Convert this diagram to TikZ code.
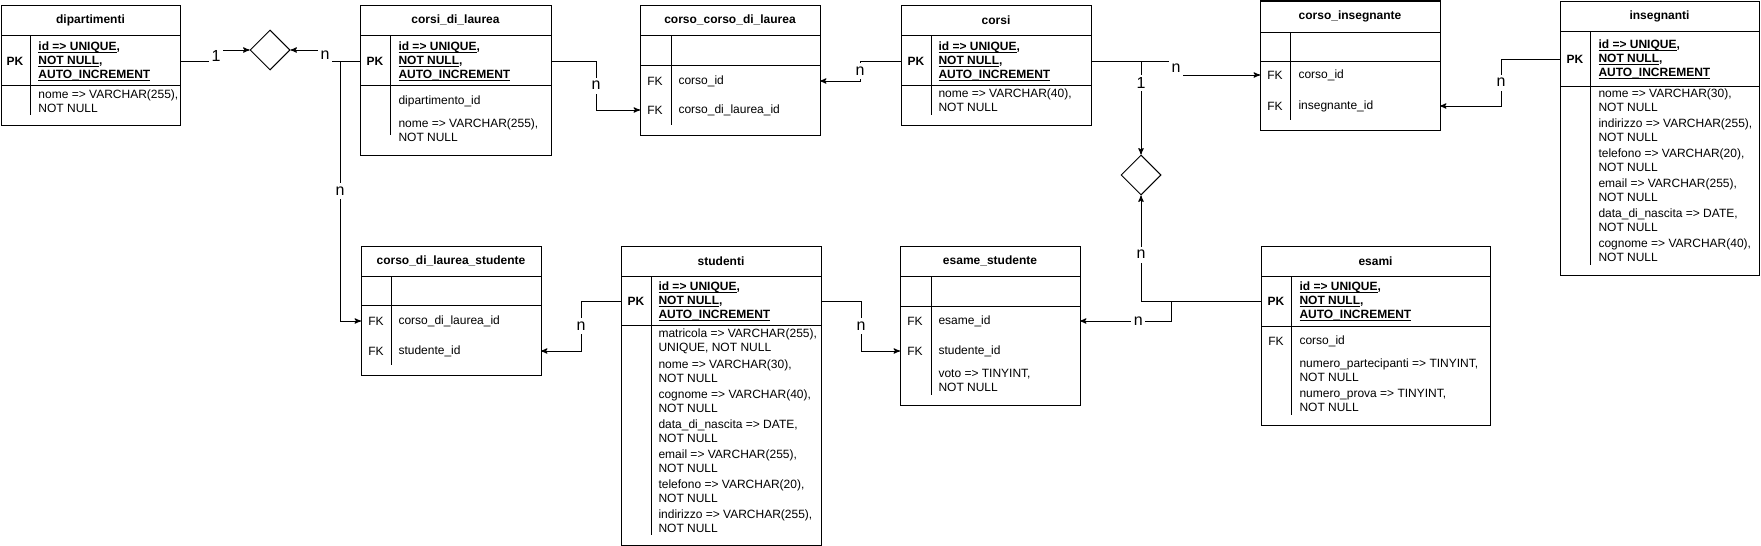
\documentclass[tikz,border=0pt]{standalone}
\usepackage{fontspec}
\setmainfont{Liberation Sans}
\usetikzlibrary{shapes.geometric}
\usetikzlibrary{arrows}

\newlength{\upx}
\setlength{\upx}{0.75pt}
\newcommand{\sott}[1]{\underline{\smash{#1}}\vphantom{#1}}

\begin{document}
\begin{tikzpicture}[x=0.75pt,y=-0.75pt,line width=0.75pt,font=\fontsize{9}{10.5}\selectfont]
\tikzset{
    %Define standard arrow tip
    >=stealth',
    %Define style for table headers
    intestazione/.style={
           rectangle,
           draw=black,
           anchor=north west,
           inner sep=0pt, outer sep=0pt,
           minimum height=30\upx,
           font=\fontsize{9}{10.5}\selectfont\bfseries},
    % Define style for table sections
    sezione/.style={
           rectangle,
           draw=black,
           anchor=north west,
           inner sep=0pt, outer sep=0pt},
    % key column and field text
    chiave/.style={inner sep=0pt},
    chiavepk/.style={inner sep=0pt, font=\fontsize{9}{10.5}\selectfont\bfseries},
    campo/.style={align=left, anchor=west, inner sep=0pt},
    % relation
    rombo/.style={
           diamond,
           draw=black,
           inner sep=0pt,
           minimum width=40\upx,
           minimum height=40\upx},
    % Define arrow style
    freccia/.style={->},
    etichetta/.style={
           fill=white,
           inner sep=0pt,
           minimum width=14\upx,
           minimum height=16\upx,
           font=\fontsize{12}{14}\selectfont}
}
\fill[white, use as bounding box] (0,0) rectangle (1761,546);

 %dipartimenti
	\node[intestazione, minimum width=179\upx] (dip) at (1,5) {dipartimenti};
	\node[sezione, minimum width=179\upx, minimum height=50\upx] (dip-pk) at (dip.south west) {};
	\node[sezione, minimum width=179\upx, minimum height=40\upx] (dip-campi) at (dip-pk.south west) {};
	\draw (dip-pk.north west) ++(29,0) -- ++(0,80);
	\node[chiavepk] (dip-pkk) at (15,61) {PK};
	\node[campo] (dip-pkt) at (38,61) {\textbf{\sott{id => UNIQUE},}\\\textbf{\sott{NOT NULL},}\\\textbf{\sott{AUTO\_INCREMENT}}};
	\node[campo] (dip-c1) at (38,101) {nome => VARCHAR(255),\\NOT NULL};

 %corsi_di_laurea
	\node[intestazione, minimum width=191\upx] (cdl) at (360,5) {corsi\_di\_laurea};
	\node[sezione, minimum width=191\upx, minimum height=50\upx] (cdl-pk) at (cdl.south west) {};
	\node[sezione, minimum width=191\upx, minimum height=70\upx] (cdl-campi) at (cdl-pk.south west) {};
	\draw (cdl-pk.north west) ++(30,0) -- ++(0,100);
	\node[chiavepk] (cdl-pkk) at (375,61) {PK};
	\node[campo] (cdl-pkt) at (398,61) {\textbf{\sott{id => UNIQUE},}\\\textbf{\sott{NOT NULL},}\\\textbf{\sott{AUTO\_INCREMENT}}};
	\node[campo] (cdl-c1) at (398,101) {dipartimento\_id};
	\node[campo] (cdl-c2) at (398,130) {nome => VARCHAR(255),\\NOT NULL};

 %corso_corso_di_laurea
	\node[intestazione, minimum width=180\upx] (ccl) at (640,5) {corso\_corso\_di\_laurea};
	\node[sezione, minimum width=180\upx, minimum height=30\upx] (ccl-vuoto) at (ccl.south west) {};
	\node[sezione, minimum width=180\upx, minimum height=70\upx] (ccl-campi) at (ccl-vuoto.south west) {};
	\draw (ccl-vuoto.north west) ++(31,0) -- ++(0,90);
	\node[chiave] (ccl-fk1) at (655,81) {FK};
	\node[campo] (ccl-c1) at (678,81) {corso\_id};
	\node[chiave] (ccl-fk2) at (655,110) {FK};
	\node[campo] (ccl-c2) at (678,110) {corso\_di\_laurea\_id};

 %corsi
	\node[intestazione, minimum width=190\upx] (cor) at (901,5) {corsi};
	\node[sezione, minimum width=190\upx, minimum height=50\upx] (cor-pk) at (cor.south west) {};
	\node[sezione, minimum width=190\upx, minimum height=40\upx] (cor-campi) at (cor-pk.south west) {};
	\draw (cor-pk.north west) ++(30,0) -- ++(0,80);
	\node[chiavepk] (cor-pkk) at (916,61) {PK};
	\node[campo] (cor-pkt) at (938,61) {\textbf{\sott{id => UNIQUE},}\\\textbf{\sott{NOT NULL},}\\\textbf{\sott{AUTO\_INCREMENT}}};
	\node[campo] (cor-c1) at (938,100) {nome => VARCHAR(40),\\NOT NULL};

 %corso_insegnante
	\node[intestazione, minimum width=180\upx, minimum height=31\upx] (cin) at (1260,1) {corso\_insegnante};
	\node[sezione, minimum width=180\upx, minimum height=29\upx] (cin-vuoto) at (cin.south west) {};
	\node[sezione, minimum width=180\upx, minimum height=69\upx] (cin-campi) at (cin-vuoto.south west) {};
	\draw (cin-vuoto.north west) ++(30,0) -- ++(0,88);
	\node[chiave] (cin-fk1) at (1275,75) {FK};
	\node[campo] (cin-c1) at (1298,75) {corso\_id};
	\node[chiave] (cin-fk2) at (1275,106) {FK};
	\node[campo] (cin-c2) at (1298,106) {insegnante\_id};

 %insegnanti
	\node[intestazione, minimum width=199\upx] (ins) at (1560,1) {insegnanti};
	\node[sezione, minimum width=199\upx, minimum height=55\upx] (ins-pk) at (ins.south west) {};
	\node[sezione, minimum width=199\upx, minimum height=189\upx] (ins-campi) at (ins-pk.south west) {};
	\draw (ins-pk.north west) ++(30,0) -- ++(0,234);
	\node[chiavepk] (ins-pkk) at (1575,59) {PK};
	\node[campo] (ins-pkt) at (1598,59) {\textbf{\sott{id => UNIQUE},}\\\textbf{\sott{NOT NULL},}\\\textbf{\sott{AUTO\_INCREMENT}}};
	\node[campo] (ins-c1) at (1598,100.5) {nome => VARCHAR(30),\\NOT NULL};
	\node[campo] (ins-c2) at (1598,130) {indirizzo => VARCHAR(255),\\NOT NULL};
	\node[campo] (ins-c3) at (1598,160) {telefono => VARCHAR(20),\\NOT NULL};
	\node[campo] (ins-c4) at (1598,190) {email => VARCHAR(255),\\NOT NULL};
	\node[campo] (ins-c5) at (1598,220) {data\_di\_nascita => DATE,\\NOT NULL};
	\node[campo] (ins-c6) at (1598,250.5) {cognome => VARCHAR(40),\\NOT NULL};

 %corso_di_laurea_studente
	\node[intestazione, minimum width=180\upx] (cls) at (361,246) {corso\_di\_laurea\_studente};
	\node[sezione, minimum width=180\upx, minimum height=29\upx] (cls-vuoto) at (cls.south west) {};
	\node[sezione, minimum width=180\upx, minimum height=70\upx] (cls-campi) at (cls-vuoto.south west) {};
	\draw (cls-vuoto.north west) ++(30,0) -- ++(0,89);
	\node[chiave] (cls-fk1) at (376,321) {FK};
	\node[campo] (cls-c1) at (398,321) {corso\_di\_laurea\_id};
	\node[chiave] (cls-fk2) at (376,351) {FK};
	\node[campo] (cls-c2) at (398,351) {studente\_id};

 %studenti
	\node[intestazione, minimum width=200\upx] (stu) at (621,246) {studenti};
	\node[sezione, minimum width=200\upx, minimum height=49\upx] (stu-pk) at (stu.south west) {};
	\node[sezione, minimum width=200\upx, minimum height=220\upx] (stu-campi) at (stu-pk.south west) {};
	\draw (stu-pk.north west) ++(30,0) -- ++(0,259);
	\node[chiavepk] (stu-pkk) at (636,301) {PK};
	\node[campo] (stu-pkt) at (658,301) {\textbf{\sott{id => UNIQUE},}\\\textbf{\sott{NOT NULL},}\\\textbf{\sott{AUTO\_INCREMENT}}};
	\node[campo] (stu-c1) at (658,341) {matricola => VARCHAR(255),\\UNIQUE, NOT NULL};
	\node[campo] (stu-c2) at (658,371) {nome => VARCHAR(30),\\NOT NULL};
	\node[campo] (stu-c3) at (658,401) {cognome => VARCHAR(40),\\NOT NULL};
	\node[campo] (stu-c4) at (658,431) {data\_di\_nascita => DATE,\\NOT NULL};
	\node[campo] (stu-c5) at (658,461) {email => VARCHAR(255),\\NOT NULL};
	\node[campo] (stu-c6) at (658,491) {telefono => VARCHAR(20),\\NOT NULL};
	\node[campo] (stu-c7) at (658,521) {indirizzo => VARCHAR(255),\\NOT NULL};

 %esame_studente
	\node[intestazione, minimum width=180\upx] (est) at (900,246) {esame\_studente};
	\node[sezione, minimum width=180\upx, minimum height=30\upx] (est-vuoto) at (est.south west) {};
	\node[sezione, minimum width=180\upx, minimum height=99\upx] (est-campi) at (est-vuoto.south west) {};
	\draw (est-vuoto.north west) ++(31,0) -- ++(0,119);
	\node[chiave] (est-fk1) at (915,321) {FK};
	\node[campo] (est-c1) at (938,321) {esame\_id};
	\node[chiave] (est-fk2) at (915,351) {FK};
	\node[campo] (est-c2) at (938,351) {studente\_id};
	\node[campo] (est-c3) at (938,380.5) {voto => TINYINT,\\NOT NULL};

 %esami
	\node[intestazione, minimum width=229\upx] (esa) at (1261,246) {esami};
	\node[sezione, minimum width=229\upx, minimum height=50\upx] (esa-pk) at (esa.south west) {};
	\node[sezione, minimum width=229\upx, minimum height=99\upx] (esa-campi) at (esa-pk.south west) {};
	\draw (esa-pk.north west) ++(30,0) -- ++(0,139);
	\node[chiavepk] (esa-pkk) at (1276,301) {PK};
	\node[campo] (esa-pkt) at (1299,301) {\textbf{\sott{id => UNIQUE},}\\\textbf{\sott{NOT NULL},}\\\textbf{\sott{AUTO\_INCREMENT}}};
	\node[chiave] (esa-fk1) at (1276,341) {FK};
	\node[campo] (esa-c1) at (1299,341) {corso\_id};
	\node[campo] (esa-c2) at (1299,370.5) {numero\_partecipanti => TINYINT,\\NOT NULL};
	\node[campo] (esa-c3) at (1299,400) {numero\_prova => TINYINT,\\NOT NULL};

 %relations
	\node[rombo] (rel1) at (270,50) {};
	\node[rombo] (rel2) at (1141,175) {};

 %connectors
	\draw[freccia] (dip-pk.east |- dip-pkk) -- ++(36,0) |- node[etichetta, pos=0.25] (l-a) {1} (rel1.west);
	\draw[freccia] (cdl-pk.west |- cdl-pkk) -- ++(-35,0) |- node[etichetta, pos=0.25] (l-b1) {n} (rel1.east);
	\draw[freccia] (cdl-pk.west |- cdl-pkk) -- ++(-20,0) |- node[etichetta, pos=0.25] (l-b2) {n} (cls-campi.west |- cls-fk1);
	\draw[freccia] (cdl-pk.east |- cdl-pkk) -- ++(45,0) |- node[etichetta, pos=0.25] (l-c) {n} (ccl-campi.west |- ccl-fk2);
	\draw[freccia] (cor-pk.west |- cor-pkk) -- ++(-41,0) |- node[etichetta, pos=0.25] (l-d) {n} (ccl-campi.east |- ccl-fk1);
	\draw[freccia] (cor-pk.east |- cor-pkk) -- ++(85,0) |- node[etichetta, pos=0.25] (l-e) {n} (cin-campi.west |- cin-fk1);
	\draw[freccia] (cor-pk.east |- cor-pkk) -| node[etichetta, pos=0.62] (l-f) {1} (rel2.north);
	\draw[freccia] (ins-pk.west |- ins-pkk) -- ++(-59,0) |- node[etichetta, pos=0.25] (l-g) {n} (cin-campi.east |- cin-fk2);
	\draw[freccia] (stu-pk.west |- stu-pkk) -- ++(-40,0) |- node[etichetta, pos=0.25] (l-h) {n} (cls-campi.east |- cls-fk2);
	\draw[freccia] (stu-pk.east |- stu-pkk) -- ++(40,0) |- node[etichetta, pos=0.25] (l-i) {n} (est-campi.west |- est-fk2);
	\draw[freccia] (esa-pk.west |- esa-pkk) -| node[etichetta, pos=0.72] (l-j) {n} (rel2.south);
	\draw[freccia] (esa-pk.west |- esa-pkk) -- ++(-90,0) |- node[etichetta, pos=0.68] (l-k) {n} (est-campi.east |- est-fk1);

\end{tikzpicture}
\end{document}
